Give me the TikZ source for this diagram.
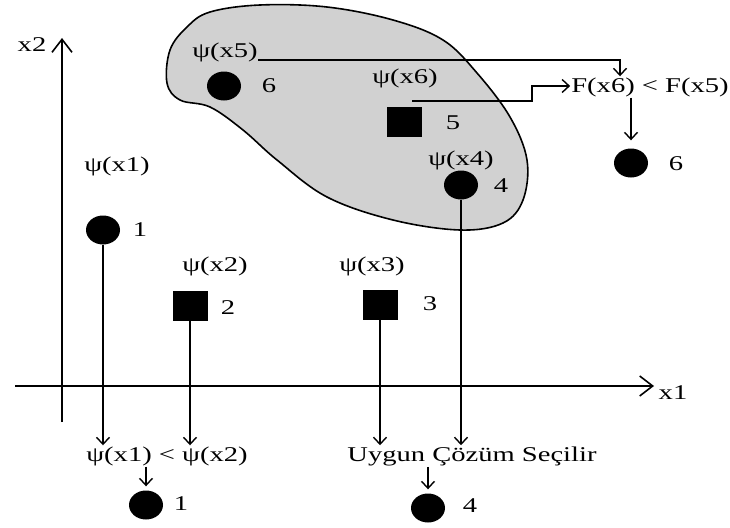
\documentclass[tikz,border=0pt]{standalone}
\usepackage{fontspec}
\setmainfont[FakeStretch=1.36]{Liberation Serif}
\usetikzlibrary{arrows.meta,shapes.geometric}
\begin{document}
\begin{tikzpicture}[x=1pt,y=-1pt,
  lbl/.style={font=\fontsize{21}{25}\selectfont, inner sep=1pt},
  dot/.style={ellipse, fill=black, minimum width=34pt, minimum height=29pt, inner sep=0pt},
  sq/.style={rectangle, fill=black, minimum width=35pt, minimum height=30pt, inner sep=0pt},
  arr/.style={line width=1.4pt, -{Straight Barb[length=7pt,width=13pt,line width=1.4pt]}},
  axis/.style={line width=1.6pt, -{Straight Barb[length=13pt,width=20pt,line width=1.6pt]}},
  conn/.style={line width=1.4pt}]
\useasboundingbox (0,0) rectangle (730,527);

% feasible region
\draw[line width=1.6pt, fill=gray!36] plot[smooth cycle, tension=0.6] coordinates {
  (170,50) (187,27) (210,12) (260,5) (327,7) (393,20) (443,40) (477,73)
  (510,117) (527,160) (523,200) (503,223) (460,230) (393,220) (327,197)
  (277,160) (243,130) (210,107) (180,100) (167,83)};

% axes
\coordinate (ybot) at (62,422);
\coordinate (ytop) at (62,38);
\coordinate (xl) at (15,386);
\coordinate (xr) at (654,386);
\draw[axis] (ybot) -- (ytop);
\draw[axis] (xl) -- (xr);
\node[lbl] (ax2) at (32,45) {x2};
\node[lbl] (ax1) at (673,393) {x1};

% points outside the region
\node[lbl] (p1) at (117,166) {ψ(x1)};
\node[dot] (c1) at (103,230) {};
\node[lbl] (n1) at (140,230) {1};

\node[lbl] (p2) at (215,266) {ψ(x2)};
\node[sq] (s2) at (190,306) {};
\node[lbl] (n2) at (228,308) {2};

\node[lbl] (p3) at (372,266) {ψ(x3)};
\node[sq] (s3) at (380,305) {};
\node[lbl] (n3) at (430,304) {3};

% points inside the region
\node[lbl] (p5) at (225,52) {ψ(x5)};
\node[dot] (c5) at (224,86) {};
\node[lbl] (n5) at (269,86) {6};

\node[lbl] (p6) at (405,78) {ψ(x6)};
\node[sq] (s6) at (404,122) {};
\node[lbl] (n6) at (453,123) {5};

\node[lbl] (p4) at (461,160) {ψ(x4)};
\node[dot] (c4) at (461,185) {};
\node[lbl] (n4) at (501,186) {4};

% comparisons and chosen points
\node[lbl] (fcmp) at (650,87) {F(x6) < F(x5)};
\node[dot] (r6) at (631,163) {};
\node[lbl] (rn6) at (676,164) {6};

\node[lbl] (cmp1) at (167,456) {ψ(x1) < ψ(x2)};
\node[dot] (r1) at (146,505) {};
\node[lbl] (rn1) at (181,504) {1};

\node[lbl] (sel) at (472,456) {Uygun Çözüm Seçilir};
\node[dot] (r4) at (428,508) {};
\node[lbl] (rn4) at (470,506) {4};

% connectors
\coordinate (s5) at (258,60);
\coordinate (k5) at (620,60);
\draw[arr] (s5) -- (k5) -- (k5 |- fcmp.north);
\coordinate (s6a) at (412,101);
\coordinate (s6b) at (532,101);
\coordinate (s6c) at (532,86);
\draw[arr] (s6a) -- (s6b) -- (s6c) -- (fcmp.west |- s6c);
\draw[arr, shorten >=8pt] (r6 |- fcmp.south) -- (r6.north);

\draw[arr] (c1) -- (c1 |- cmp1.north);
\draw[arr] (s2) -- (s2 |- cmp1.north);
\draw[arr, shorten >=4pt] (r1 |- cmp1.south) -- (r1.north);

\draw[arr] (s3) -- (s3 |- sel.north);
\draw[arr] (c4) -- (c4 |- sel.north);
\draw[arr, shorten >=4pt] (r4 |- sel.south) -- (r4.north);
\end{tikzpicture}
\end{document}
